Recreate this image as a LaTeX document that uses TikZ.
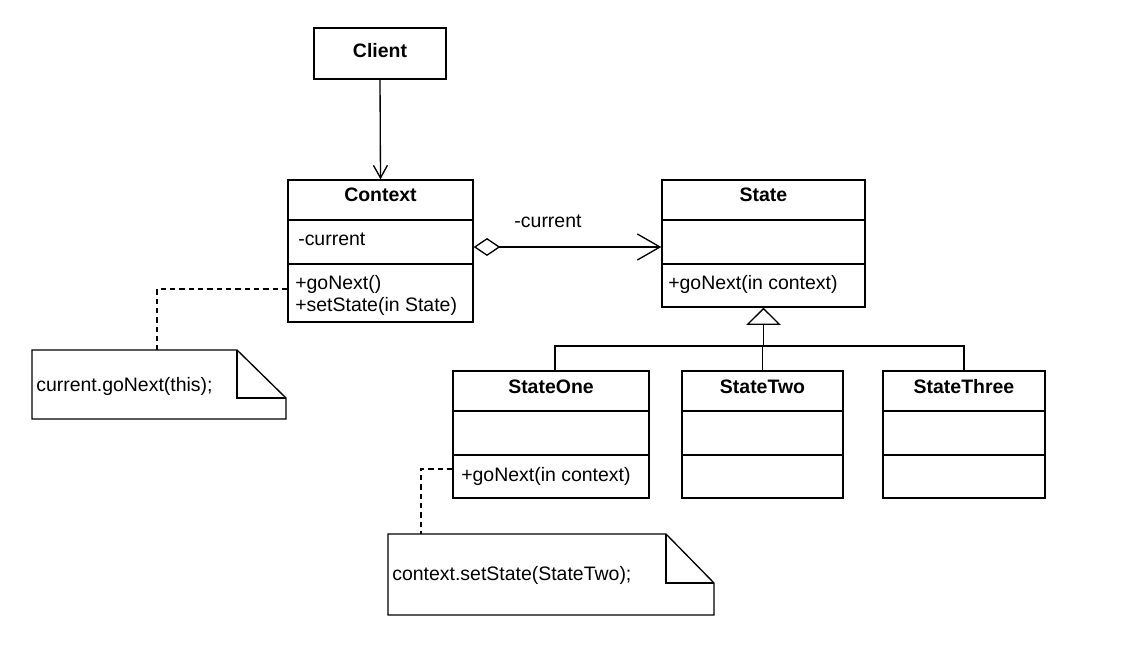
\documentclass[tikz,border=0pt]{standalone}
\usepackage{fontspec}
\setmainfont{Liberation Sans}
\usetikzlibrary{arrows.meta,fit,calc}
\tikzset{
  umlbox/.style={draw, line width=1pt, inner sep=0pt, fill=white},
  divider/.style={line width=1pt},
  txt/.style={inner sep=0pt, anchor=base west, font=\fontsize{14.6}{17}\selectfont},
  ttl/.style={inner sep=0pt, anchor=base, font=\fontsize{14.6}{17}\selectfont\bfseries},
  conn/.style={line width=1pt},
  openarrow/.style={conn, -{Straight Barb[length=9.5pt, width=10.5pt, line width=1pt]}},
  bigarrow/.style={conn, {Diamond[open, length=20pt, width=13.5pt, line width=1pt]}-{Straight Barb[length=17pt, width=19.5pt, line width=1pt]}},
  inh/.style={conn, -{Triangle[open, length=13pt, width=26pt, line width=1pt]}},
  notedash/.style={line width=1pt, dash pattern=on 4pt off 3pt},
  notebox/.style={line width=1pt, line join=miter}
}
\begin{document}
\begin{tikzpicture}[x=0.75pt, y=-0.75pt]
\useasboundingbox (0,0) rectangle (1142,648);
\fill[white] (0,0) rectangle (1142,648);

% Client
\node[umlbox, fit={(314,28)(446,79)}] (client) {};
\node[ttl] (clientname) at (380,58) {Client};

% Context
\node[umlbox, fit={(288,180)(473,322)}] (ctx) {};
\draw[divider] (288,220) -- (473,220);
\draw[divider] (288,264) -- (473,264);
\node[ttl] (ctxname) at (380.5,202) {Context};
\node[txt] (ctxattr) at (298,246) {-current};
\node[txt] (ctxm1) at (295,290) {+goNext()};
\node[txt] (ctxm2) at (295,312) {+setState(in State)};

% State
\node[umlbox, fit={(662,180)(865,307)}] (state) {};
\draw[divider] (662,220) -- (865,220);
\draw[divider] (662,264) -- (865,264);
\node[ttl] (statename) at (763.5,202) {State};
\node[txt] (statem1) at (668,290) {+goNext(in context)};

% StateOne
\node[umlbox, fit={(453,371)(649,498)}] (s1) {};
\draw[divider] (453,411) -- (649,411);
\draw[divider] (453,455) -- (649,455);
\node[ttl] (s1name) at (551,393) {StateOne};
\node[txt] (s1m1) at (461,481) {+goNext(in context)};

% StateTwo
\node[umlbox, fit={(682,371)(843,498)}] (s2) {};
\draw[divider] (682,411) -- (843,411);
\draw[divider] (682,455) -- (843,455);
\node[ttl] (s2name) at (762.5,393) {StateTwo};

% StateThree
\node[umlbox, fit={(883,371)(1045,498)}] (s3) {};
\draw[divider] (883,411) -- (1045,411);
\draw[divider] (883,455) -- (1045,455);
\node[ttl] (s3name) at (964,393) {StateThree};

% Client -> Context
\draw[openarrow] (client.south) -- (ctx.north);

% Aggregation Context -> State
\coordinate (aggy) at (0,247);
\draw[bigarrow] (ctx.east |- aggy) -- (state.west |- aggy);
\node[txt, anchor=base] (agglabel) at (548,228) {-current};

% Inheritance
\coordinate (b1) at (555,346);
\coordinate (s1top) at (555,371);
\draw[conn] (s1top) -- (b1) -- (b1 -| s3.north) -- (s3.north);
\draw[conn] (s2.north) -- (s2.north |- b1);
\draw[inh] (b1 -| state.south) -- (state.south);

% Note 1
\draw[notebox] (32,350) -- (237,350) -- (286,398) -- (286,419) -- (32,419) -- cycle;
\draw[notebox] (237,350) -- (237,398) -- (286,398);
\node[txt] (note1) at (36,392) {current.goNext(this);};
\coordinate (n1top) at (157,350);
\coordinate (n1bend) at (157,289);
\draw[notedash] (ctx.west |- n1bend) -- (n1bend) -- (n1top);

% Note 2
\draw[notebox] (388,534) -- (666,534) -- (714,583) -- (714,615) -- (388,615) -- cycle;
\draw[notebox] (666,534) -- (666,583) -- (714,583);
\node[txt] (note2) at (392,580) {context.setState(StateTwo);};
\coordinate (n2top) at (421,534);
\coordinate (n2bend) at (421,469);
\draw[notedash] (s1.west |- n2bend) -- (n2bend) -- (n2top);
\end{tikzpicture}
\end{document}
